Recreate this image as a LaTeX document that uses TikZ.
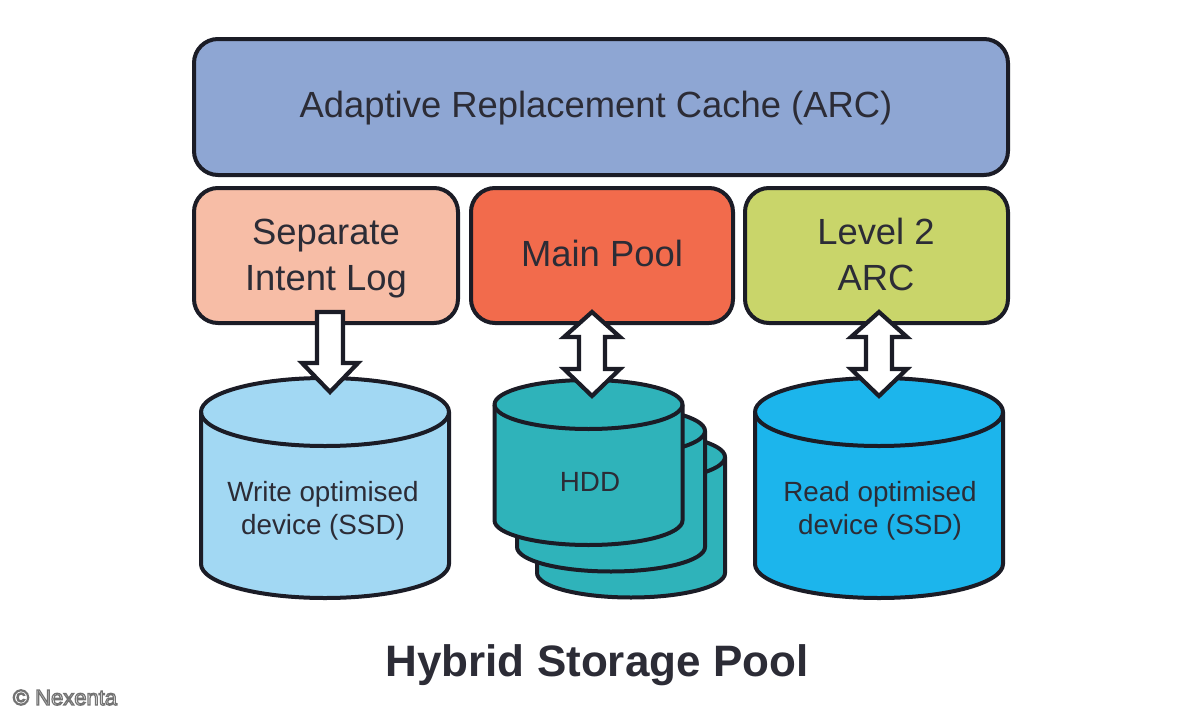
\documentclass[tikz,border=0pt]{standalone}
\usepackage{fontspec}
\setmainfont{Liberation Sans}
\definecolor{ink}{HTML}{1B1C26}
\definecolor{txt}{HTML}{2C2C36}
\definecolor{arcblue}{HTML}{8EA6D3}
\definecolor{logpink}{HTML}{F7BDA6}
\definecolor{mainred}{HTML}{F26B4C}
\definecolor{lvlgreen}{HTML}{C9D56A}
\definecolor{ssdlight}{HTML}{A2D8F3}
\definecolor{hddteal}{HTML}{2FB3BA}
\definecolor{ssdblue}{HTML}{1CB5EC}
\tikzset{
  box/.style={draw=ink,line width=4pt,rounded corners=24pt,inner sep=0pt,align=center,text=txt},
  boxtext/.style={text=txt,align=center,inner sep=0pt,font=\fontsize{36.4}{46}\selectfont},
  cylline/.style={draw=ink,line width=4pt,line join=round},
  blockarrow/.style={draw=ink,fill=white,line width=4.2pt,line join=miter,miter limit=4},
  cyltext/.style={text=txt,align=center,inner sep=0pt,font=\fontsize{27.8}{33}\selectfont},
}
% #1 centre x, #2 top-ellipse centre y, #3 rx, #4 ry, #5 wall height, #6 fill
\newcommand{\drumshape}[6]{%
  \path[cylline,fill=#6] (#1-#3,#2) -- (#1-#3,#2+#5)
    arc[start angle=180,end angle=0,x radius=#3,y radius=#4]
    -- (#1+#3,#2)
    arc[start angle=0,end angle=-180,x radius=#3,y radius=#4] -- cycle;
  \path[cylline] (#1-#3,#2) arc[start angle=180,end angle=0,x radius=#3,y radius=#4];
}
\newcommand{\onewayarrow}[2]{%
  \path[blockarrow] (#1) ++(-13,0) -- ++(26,0) -- ++(0,51) -- ++(15,0) -- (#2)
    -- ++(-28,-29) -- ++(15,0) -- cycle;
}
\newcommand{\twowayarrow}[2]{%
  \path[blockarrow] (#1) -- ++(28,25) -- ++(-15,0) -- ++(0,32) -- ++(15,0) -- (#2)
    -- ++(-28,-27) -- ++(15,0) -- ++(0,-32) -- ++(-15,0) -- cycle;
}
\begin{document}
\begin{tikzpicture}[x=1pt,y=-1pt]
\useasboundingbox (0,0) rectangle (1200,720);
% boxes
\node[box,fill=arcblue,minimum width=814pt,minimum height=136pt] (arc) at (601,107) {};
\node[box,fill=logpink,minimum width=264pt,minimum height=135pt] (log) at (326,255.5) {};
\node[box,fill=mainred,minimum width=262pt,minimum height=135pt] (main) at (602,255.5) {};
\node[box,fill=lvlgreen,minimum width=263pt,minimum height=135pt] (lvl) at (876.5,255.5) {};
\node[boxtext] (arctext) at (596,108.5) {Adaptive Replacement Cache (ARC)};
\node[boxtext] (logtext) at (326,259) {Separate\\Intent Log};
\node[boxtext] (maintext) at (602,253) {Main Pool};
\node[boxtext] (lvltext) at (876,254.5) {Level 2\\ARC};
% cylinders
\drumshape{325}{412}{124}{34}{152}{ssdlight}
\drumshape{631}{457}{94}{24.5}{116}{hddteal}
\drumshape{611}{431}{94}{24.5}{116}{hddteal}
\drumshape{588.5}{404.5}{94}{24.5}{116}{hddteal}
\drumshape{879}{412}{124}{34}{152}{ssdblue}
\node[cyltext] (ssdw) at (323,510.5) {Write optimised\\device (SSD)};
\node[cyltext] (hdd) at (590,482) {HDD};
\node[cyltext] (ssdr) at (880,510.5) {Read optimised\\device (SSD)};
% arrows
\coordinate (a1s) at (330,312);
\coordinate (a1e) at (330,392);
\coordinate (a2s) at (592,312);
\coordinate (a2e) at (592,396);
\coordinate (a3s) at (879,312);
\coordinate (a3e) at (879,396);
\onewayarrow{a1s}{a1e}
\twowayarrow{a2s}{a2e}
\twowayarrow{a3s}{a3e}
% title and credit
\node[text=txt,inner sep=0pt,font=\fontsize{44}{50}\selectfont\bfseries] (title) at (597,665) {Hybrid Storage Pool};
\node[font=\fontsize{22}{24}\selectfont,text=white,inner sep=0pt] (credit) at (65,697.5)
  {\special{pdf:code q 2 Tr 1.2 w 0.45 0.45 0.45 RG}© Nexenta\special{pdf:code Q}};
\end{tikzpicture}
\end{document}
